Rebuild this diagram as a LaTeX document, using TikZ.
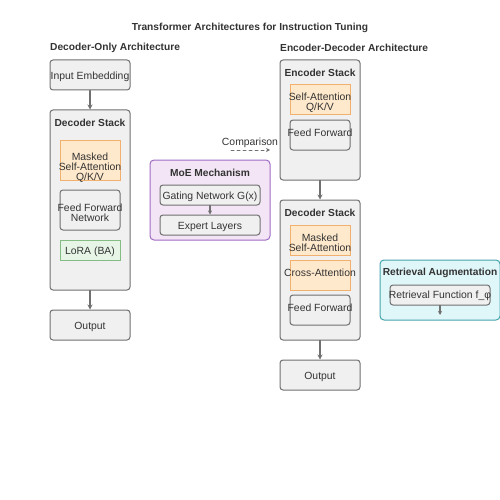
\documentclass[tikz,border=0pt]{standalone}
\usepackage{fontspec}
\setmainfont{Liberation Sans}
\usetikzlibrary{arrows.meta}
\definecolor{boxgray}{HTML}{F0F0F0}
\definecolor{linegray}{HTML}{707070}
\definecolor{attfill}{HTML}{FFE9CC}
\definecolor{attline}{HTML}{F2B06E}
\definecolor{lorafill}{HTML}{E7F5E7}
\definecolor{loraline}{HTML}{84BC84}
\definecolor{moefill}{HTML}{F3E5F5}
\definecolor{moeline}{HTML}{A06CC4}
\definecolor{ragfill}{HTML}{E0F7FA}
\definecolor{ragline}{HTML}{45A3AB}
\definecolor{txt}{HTML}{333333}
\begin{document}
\begin{tikzpicture}[x=1pt,y=-1pt,line cap=round,
  font=\fontsize{10.4}{10}\selectfont,text=txt,align=center,
  block/.style={draw=linegray,fill=boxgray,line width=1pt,rounded corners=3pt,inner sep=0pt},
  attn/.style={draw=attline,fill=attfill,line width=1pt,inner sep=0pt},
  lora/.style={draw=loraline,fill=lorafill,line width=1pt,inner sep=0pt},
  lbl/.style={yshift=-1.5pt},
  head/.style={lbl,font=\fontsize{10.2}{10}\selectfont\bfseries},
  flow/.style={draw=linegray,line width=1.3pt,-{Stealth[length=5pt,width=5pt]}}]
\useasboundingbox (0,0) rectangle (500,500);
% titles
\node[head] (title) at (250,26) {Transformer Architectures for Instruction Tuning};
\node[head,anchor=west,inner sep=0pt] (dechead) at (50,46) {Decoder-Only Architecture};
\node[head,anchor=west,inner sep=0pt] (edhead) at (280,46) {Encoder-Decoder Architecture};
% decoder-only column
\node[block,minimum width=80pt,minimum height=30pt] (embed) at (90,75) {};
\node[lbl] (embedlbl) at (embed) {Input Embedding};
\node[block,minimum width=80pt,minimum height=180pt] (dstack) at (90,200) {};
\node[head] (dstacklbl) at (90,121) {Decoder Stack};
\node[attn,minimum width=60pt,minimum height=40pt] (dmsa) at (90,160) {};
\node[lbl] (dmsalbl) at (90,166) {Masked\\Self-Attention\\Q/K/V};
\node[block,minimum width=60pt,minimum height=40pt] (dffn) at (90,210) {};
\node[lbl] (dffnlbl) at (90,211) {Feed Forward\\Network};
\node[lora,minimum width=60pt,minimum height=20pt] (lora) at (90,250) {};
\node[lbl] (loralbl) at (lora) {LoRA (BA)};
\node[block,minimum width=80pt,minimum height=30pt] (dout) at (90,325) {};
\node[lbl] (doutlbl) at (dout) {Output};
\draw[flow] (embed) -- (dstack);
\draw[flow] (dstack) -- (dout);
% moe
\node[draw=moeline,fill=moefill,line width=1pt,rounded corners=4pt,minimum width=120pt,minimum height=80pt] (moe) at (210,200) {};
\node[head] (moelbl) at (210,171) {MoE Mechanism};
\node[block,minimum width=100pt,minimum height=20pt] (gate) at (210,195) {};
\node[lbl] (gatelbl) at (gate) {Gating Network G(x)};
\node[block,minimum width=100pt,minimum height=20pt] (expert) at (210,225) {};
\node[lbl] (expertlbl) at (expert) {Expert Layers};
\draw[flow,-{Stealth[length=4pt,width=4pt]}] (gate) -- (expert);
% comparison
\node[lbl] (cmplbl) at (250,141) {Comparison};
\coordinate (cmpa) at (231,150);
\coordinate (cmpb) at (270,150);
\draw[flow,dashed,line width=1pt,-{Stealth[length=4pt,width=4pt]}] (cmpa) -- (cmpb);
% encoder-decoder column
\node[block,minimum width=80pt,minimum height=120pt] (estack) at (320,120) {};
\node[head] (estacklbl) at (320,71) {Encoder Stack};
\node[attn,minimum width=60pt,minimum height=30pt] (esa) at (320,100) {};
\node[lbl] (esalbl) at (320,101) {Self-Attention\\Q/K/V};
\node[block,minimum width=60pt,minimum height=30pt] (eff) at (320,135) {};
\node[lbl] (efflbl) at (320,131) {Feed Forward};
\node[block,minimum width=80pt,minimum height=140pt] (rstack) at (320,270) {};
\node[head] (rstacklbl) at (320,211) {Decoder Stack};
\node[attn,minimum width=60pt,minimum height=30pt] (rmsa) at (320,240) {};
\node[lbl] (rmsalbl) at (320,241) {Masked\\Self-Attention};
\node[attn,minimum width=60pt,minimum height=30pt] (cross) at (320,275) {};
\node[lbl] (crosslbl) at (320,271) {Cross-Attention};
\node[block,minimum width=60pt,minimum height=30pt] (rff) at (320,310) {};
\node[lbl] (rfflbl) at (320,306) {Feed Forward};
\node[block,minimum width=80pt,minimum height=30pt] (rout) at (320,375) {};
\node[lbl] (routlbl) at (rout) {Output};
\draw[flow] (estack) -- (rstack);
\draw[flow] (rstack) -- (rout);
% retrieval
\node[draw=ragline,fill=ragfill,line width=1pt,rounded corners=4pt,minimum width=120pt,minimum height=60pt] (rag) at (440,290) {};
\node[head] (raglbl) at (440,271) {Retrieval Augmentation};
\node[block,minimum width=100pt,minimum height=20pt] (retr) at (440,295) {};
\node[lbl] (retrlbl) at (440,294) {Retrieval Function f\_φ};
\coordinate (retrend) at (440,315);
\draw[flow,-{Stealth[length=4pt,width=4pt]}] (retr) -- (retrend);
\end{tikzpicture}
\end{document}
